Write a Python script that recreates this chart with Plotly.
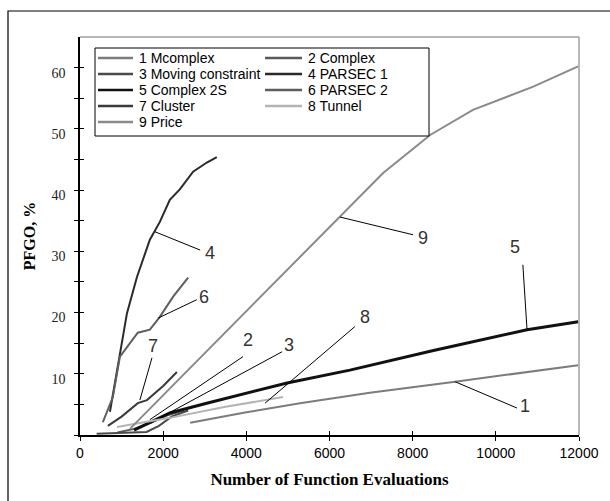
import plotly.graph_objects as go

# ---- data ----
names = ["1 Mcomplex", "2 Complex", "3 Moving constraint", "4 PARSEC 1",
         "5 Complex 2S", "6 PARSEC 2", "7 Cluster", "8 Tunnel", "9 Price"]

x1 = [2650, 4000, 5290, 6970, 9020, 11980]
y1 = [2.0, 3.7, 5.2, 6.9, 8.7, 11.4]

x2 = [900, 1300, 1700, 2100, 2500]
y2 = [0.4, 1.0, 2.0, 3.2, 4.0]

x3 = [400, 1000, 1600, 1900, 2200, 2600]
y3 = [0.2, 0.3, 0.5, 1.5, 3.0, 4.0]

x4 = [720, 960, 1130, 1370, 1680, 1920, 2160, 2400, 2720, 3050, 3290]
y4 = [3.8, 13.4, 19.9, 25.8, 31.9, 34.8, 38.4, 40.1, 43.0, 44.5, 45.4]

x5 = [1300, 2160, 3000, 4000, 4980, 6490, 8500, 10750, 11980]
y5 = [0.8, 3.6, 5.1, 6.8, 8.5, 10.6, 13.8, 17.2, 18.5]

x6 = [550, 790, 960, 1200, 1390, 1680, 1920, 2240, 2600]
y6 = [2.1, 6.2, 12.8, 15.0, 16.7, 17.2, 19.3, 22.6, 25.7]

x7 = [670, 1000, 1390, 1610, 2000, 2330]
y7 = [1.5, 3.0, 5.2, 5.7, 8.0, 10.3]

x8 = [890, 2160, 3500, 4880]
y8 = [1.3, 2.8, 4.6, 6.2]

x9 = [1200, 2500, 3500, 4330, 5530, 6250, 7290, 8420, 9450, 10900, 11980]
y9 = [1.0, 9.9, 16.9, 22.6, 30.7, 35.6, 42.8, 49.0, 53.1, 56.9, 60.2]

xs = [x1, x2, x3, x4, x5, x6, x7, x8, x9]
ys = [y1, y2, y3, y4, y5, y6, y7, y8, y9]

# curve labels and their leader lines
label_text = ["1", "2", "3", "4", "5", "6", "7", "8", "9"]
label_x = [10700, 4040, 5030, 3120, 10460, 2990, 1760, 6850, 8250]
label_y = [4.7, 15.5, 14.7, 29.8, 30.7, 22.6, 14.5, 19.3, 32.2]
lead_x0 = [9020, 1680, 1920, 1800, 10750, 1880, 1440, 4450, 6250]
lead_y0 = [8.7, 2.5, 2.8, 33.2, 17.2, 19.1, 5.7, 5.2, 35.6]
lead_x1 = [10510, 3920, 4860, 2890, 10650, 2810, 1730, 6610, 8010]
lead_y1 = [4.4, 12.8, 13.6, 30.2, 27.8, 22.1, 12.6, 17.7, 32.7]

x_ticks = [0, 2000, 4000, 6000, 8000, 10000, 12000]
x_ticktext = ["0", "2000", "4000", "6000", "8000", "10000", "12000"]
y_ticks = [0, 5, 10, 15, 20, 25, 30, 35, 40, 45, 50, 55, 60]
y_ticktext = ["", "", "10", "", "20", "", "30", "", "40", "", "50", "", "60"]

# ---- styles ----
colors = ["#7c7c7c", "#5a5a5a", "#4a4a4a", "#2a2a2a", "#111111",
          "#5e5e5e", "#3a3a3a", "#b4b4b4", "#8a8a8a"]
widths = [2, 2, 2, 2, 3, 2, 2, 2, 2]

SERIF = "Liberation Serif, Times New Roman, serif"
SANS = "Liberation Sans, Arial, sans-serif"

W, H = 610, 501
ML, MR, MT, MB = 80, 31, 37, 66
PW, PH = W - ML - MR, H - MT - MB


def px_x(px):
    return (px - ML) / PW


def px_y(py):
    return (H - MB - py) / PH


fig = go.Figure()
for i in range(9):
    fig.add_trace(go.Scatter(x=xs[i], y=ys[i], mode="lines", name=names[i],
                             line=dict(color=colors[i], width=widths[i]),
                             showlegend=False, xaxis="x", yaxis="y"))

# invisible trace to activate overlay axes (inside tick marks)
fig.add_trace(go.Scatter(x=[None], y=[None], xaxis="x2", yaxis="y2",
                         showlegend=False, hoverinfo="skip"))

for i in range(9):
    fig.add_shape(type="line", xref="x", yref="y",
                  x0=lead_x0[i], y0=lead_y0[i], x1=lead_x1[i], y1=lead_y1[i],
                  line=dict(color="black", width=1))
    fig.add_annotation(x=label_x[i], y=label_y[i], xref="x", yref="y",
                       text=label_text[i], showarrow=False,
                       font=dict(family=SANS, size=18, color="#333333"))

# plot-area top/right border (gray)
fig.add_shape(type="line", xref="paper", yref="paper", x0=0, y0=1, x1=1, y1=1,
              line=dict(color="#a0a0a0", width=1.5))
fig.add_shape(type="line", xref="paper", yref="paper", x0=1, y0=0, x1=1, y1=1,
              line=dict(color="#a0a0a0", width=1.5))
# outer frame (left and top visible)
fig.add_shape(type="rect", xref="paper", yref="paper",
              x0=px_x(8), y0=-0.3, x1=1.2, y1=px_y(11),
              line=dict(color="black", width=1.2), layer="below")

# ---- legend box (two columns) ----
fig.add_shape(type="rect", xref="paper", yref="paper",
              x0=px_x(95), x1=px_x(429), y0=px_y(136), y1=px_y(48),
              line=dict(color="black", width=1), fillcolor="white", layer="above")
col_sample_x = [(98, 133), (265, 302)]
col_text_x = [138, 307]
row_y = [58, 74, 90, 106, 122]
for i in range(9):
    r, c = divmod(i, 2)
    sx0, sx1 = col_sample_x[c]
    fig.add_shape(type="line", xref="paper", yref="paper",
                  x0=px_x(sx0), x1=px_x(sx1), y0=px_y(row_y[r]), y1=px_y(row_y[r]),
                  line=dict(color=colors[i], width=2.5), layer="above")
    fig.add_annotation(x=px_x(col_text_x[c]), y=px_y(row_y[r]), xref="paper", yref="paper",
                       text=names[i], showarrow=False, xanchor="left", yanchor="middle",
                       borderpad=0,
                       font=dict(family=SANS, size=14, color="black"))

fig.update_layout(
    width=W, height=H,
    margin=dict(l=ML, r=MR, t=MT, b=MB),
    paper_bgcolor="white", plot_bgcolor="white",
    showlegend=False,
    xaxis=dict(range=[0, 12000], tickvals=x_ticks, ticktext=x_ticktext,
               ticks="outside", ticklen=4,
               tickcolor="black", showline=True, linecolor="black", linewidth=1.5,
               showgrid=False, zeroline=False,
               tickfont=dict(family=SANS, size=14, color="black"),
               title=dict(text="<b>Number of Function Evaluations</b>",
                          font=dict(family=SERIF, size=17, color="black"),
                          standoff=14)),
    yaxis=dict(range=[0, 65], tickvals=y_ticks, ticktext=y_ticktext,
               ticks="outside", ticklen=4, tickcolor="black",
               showline=True, linecolor="black", linewidth=1.5,
               showgrid=False, zeroline=False, ticklabelstandoff=6,
               ticklabelshift=5,
               tickfont=dict(family=SERIF, size=14, color="#222222"),
               title=dict(text="<b>PFGO, %</b>",
                          font=dict(family=SERIF, size=16, color="black"),
                          standoff=12)),
    xaxis2=dict(range=[0, 12000], overlaying="x", anchor="y2", side="bottom",
                tickvals=x_ticks, ticks="inside", ticklen=4, tickcolor="black",
                showticklabels=False, showgrid=False, zeroline=False, showline=False),
    yaxis2=dict(range=[0, 65], overlaying="y", anchor="x2", side="left",
                tickvals=y_ticks, ticks="inside", ticklen=4, tickcolor="black",
                showticklabels=False, showgrid=False, zeroline=False, showline=False),
)

fig.write_html("out.html")
